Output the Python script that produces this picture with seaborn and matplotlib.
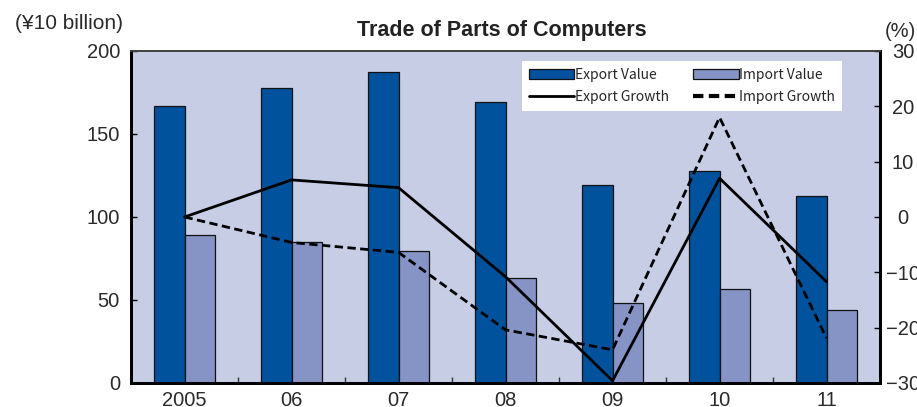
import matplotlib
matplotlib.use("Agg")
import matplotlib.pyplot as plt
import seaborn as sns
import pandas as pd
from matplotlib.ticker import FixedLocator
from matplotlib.patches import Patch
from matplotlib.lines import Line2D

years = ["2005", "06", "07", "08", "09", "10", "11"]
export_value = [167, 178, 187.5, 169, 119, 127.5, 112.5]
import_value = [89, 85, 79.5, 63, 48, 56.5, 44]
export_growth = [0, 6.7, 5.3, -10.8, -29.6, 7.0, -11.7]
import_growth = [0, -4.6, -6.4, -20.4, -24.0, 18.0, -21.9]

sns.set_theme(style="white")
plt.rcParams["font.family"] = ["Liberation Sans", "DejaVu Sans"]

bars = pd.DataFrame({
    "year": years * 2,
    "value": export_value + import_value,
    "series": ["Export Value"] * len(years) + ["Import Value"] * len(years),
})
growth = pd.DataFrame({
    "year": years * 2,
    "growth": export_growth + import_growth,
    "series": ["Export Growth"] * len(years) + ["Import Growth"] * len(years),
})

fig = plt.figure(figsize=(9.17, 4.07), dpi=100)
ax = fig.add_axes([0.1429, 0.059, 0.8168, 0.8157])
ax.set_facecolor("#C8CDE6")

sns.barplot(data=bars, x="year", y="value", hue="series", ax=ax,
            palette=["#00529C", "#8593C5"], width=0.574, gap=0,
            edgecolor="#111111", linewidth=0.9, saturation=1, legend=False)
ax.set_xlim(-0.5, len(years) - 0.5)
ax.set_ylim(0, 200)
ax.set_yticks([0, 50, 100, 150, 200])
ax.set_xlabel("")
ax.set_ylabel("")

ax2 = ax.twinx()
sns.lineplot(data=growth, x="year", y="growth", style="series", ax=ax2,
             color="black", linewidth=2.0, sort=False,
             dashes={"Export Growth": "", "Import Growth": (3, 1.6)},
             legend=False)
ax2.set_ylim(-30, 30)
ax2.set_yticks([-30, -20, -10, 0, 10, 20, 30])
ax2.set_ylabel("")
ax2.set_xlabel("")
ax.set_xlim(-0.5, len(years) - 0.5)

for a in (ax, ax2):
    for s in ("left", "bottom", "right"):
        a.spines[s].set_color("black")
        a.spines[s].set_linewidth(2.0)
    a.spines["top"].set_color("#444444")
    a.spines["top"].set_linewidth(1.3)

ax.tick_params(axis="y", direction="in", length=4, width=1, color="black",
               labelsize=14.5, pad=8, labelcolor="#2a2a2a", left=True)
ax2.tick_params(axis="y", direction="in", length=4, width=1, color="black",
                labelsize=14.5, pad=16.5, labelcolor="#2a2a2a", right=True)
for lbl in ax2.get_yticklabels():
    lbl.set_horizontalalignment("center")
ax.tick_params(axis="x", which="major", length=0, labelsize=14.5, pad=6,
               labelcolor="#2a2a2a")
ax.xaxis.set_minor_locator(FixedLocator([i + 0.5 for i in range(len(years) - 1)]))
ax.tick_params(axis="x", which="minor", direction="in", length=4, width=1,
               color="#333333", bottom=True)

handles = [
    Patch(facecolor="#00529C", edgecolor="#111111", linewidth=0.9),
    Line2D([], [], color="black", linewidth=2.0),
    Patch(facecolor="#8593C5", edgecolor="#111111", linewidth=0.9),
    Line2D([], [], color="black", linewidth=3.0, linestyle=(0, (2.5, 1.3))),
]
labels = ["Export Value", "Export Growth", "Import Value", "Import Growth"]
leg = ax2.legend(handles, labels, ncol=2, loc="upper left",
                 bbox_to_anchor=(0.5216, 0.97), borderaxespad=0,
                 frameon=True, fancybox=False, framealpha=1,
                 edgecolor="white", facecolor="white",
                 prop={"family": ["Noto Sans CJK JP", "DejaVu Sans"], "size": 10},
                 handlelength=3.3, handleheight=0.75, handletextpad=0.05,
                 columnspacing=1.7, labelspacing=0.6, borderpad=0.5)
leg.get_frame().set_linewidth(0)

fig.text(0.5475, 0.926, "Trade of Parts of Computers", ha="center", va="center",
         fontsize=15.5, fontweight="bold", color="#222222")
fig.text(0.016, 0.942, "(¥10 billion)", ha="left", va="center",
         fontsize=15, color="#2a2a2a")
fig.text(0.965, 0.922, "(%)", ha="left", va="center",
         fontsize=14.5, color="#2a2a2a")

fig.savefig("out.png", dpi=100)
